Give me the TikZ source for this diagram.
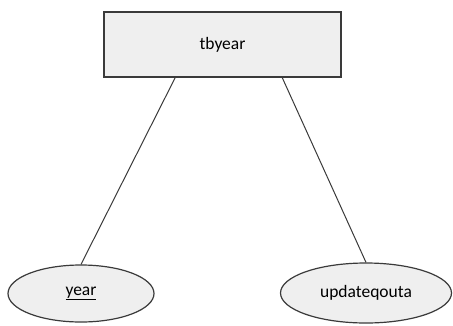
\documentclass[tikz,border=0pt]{standalone}
\usepackage{fontspec}
\setmainfont{Carlito}
\usetikzlibrary{shapes.geometric}
\definecolor{boxfill}{HTML}{EFEFEF}
\definecolor{edgegray}{HTML}{3A3A3A}
\begin{document}
\begin{tikzpicture}[x=1pt,y=1pt,
    entity/.style    = {draw=edgegray, line width=1.2pt, fill=boxfill,
                        minimum width=237pt, minimum height=65pt,
                        font=\fontsize{17.5}{20}\selectfont},
    attribute/.style = {ellipse, draw=edgegray, line width=1.2pt, fill=boxfill,
                        inner sep=0pt, font=\fontsize{17.5}{20}\selectfont},
    link/.style      = {draw=edgegray, line width=1pt}]
  \useasboundingbox (0,0) rectangle (453,-325);
  \node [entity] (tbyear) at (222.5,-44.5) {tbyear};
  \node [attribute, minimum width=146pt, minimum height=57pt]
        (year) at (81,-293.5) {\underline{year}};
  \node [attribute, minimum width=171pt, minimum height=60pt]
        (updateqouta) at (366,-293) {updateqouta};
  \draw [link] (tbyear.215.5) -- (year.north);
  \draw [link] (tbyear.331.8) -- (updateqouta.north);
\end{tikzpicture}
\end{document}
